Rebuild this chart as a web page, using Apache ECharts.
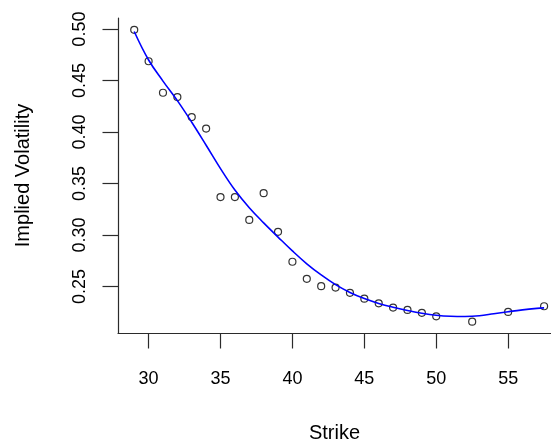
<!DOCTYPE html>
<html>
<head>
<meta charset="utf-8">
<script src="https://cdn.jsdelivr.net/npm/echarts@6/dist/echarts.min.js"></script>
<style>
html,body{margin:0;padding:0;background:#fff;overflow:hidden;}
#chart{width:551px;height:448px;}
</style>
</head>
<body>
<div id="chart"></div>
<script>
// Observed implied volatilities
var strikes = [29,30,31,32,33,34,35,36,37,38,39,40,41,42,43,44,45,46,47,48,49,50,52.5,55,57.5];
var ivObserved = [0.4993,0.4688,0.4382,0.4340,0.4146,0.4034,0.3368,0.3368,0.3146,0.3406,0.3031,0.2740,0.2574,0.2503,0.2489,0.2438,0.2381,0.2336,0.2295,0.2272,0.2244,0.2210,0.2158,0.2253,0.2308];

// Fitted smile curve (blue line)
var curveStrikes = [29,30,31,32,33,34,35,36,37,38,39,40,41,42,43,44,45,46,47,48,49,50,51,52,53,54,55,56,57,57.5];
var curveIV = [0.4977,0.4700,0.4495,0.4305,0.4095,0.3872,0.3645,0.3437,0.3265,0.3118,0.2980,0.2845,0.2720,0.2612,0.2518,0.2442,0.2382,0.2335,0.2298,0.2267,0.2240,0.2220,0.2210,0.2208,0.2215,0.2235,0.2255,0.2273,0.2287,0.2292];

// Tick labels
var xTicks = [30,35,40,45,50,55];
var yTicks = [0.25,0.30,0.35,0.40,0.45,0.50];

var xTitle = 'Strike';
var yTitle = 'Implied Volatility';

var scatterData = strikes.map(function(s,i){ return [s, ivObserved[i]]; });
var curveData = curveStrikes.map(function(s,i){ return [s, curveIV[i]]; });

var FONT = '"Liberation Sans", Arial, sans-serif';

var chart = echarts.init(document.getElementById('chart'), null, {renderer:'canvas', width:551, height:448});
chart.setOption({
  animation: false,
  backgroundColor: '#ffffff',
  grid: { left: 118, right: 0, top: 18, height: 321.3, containLabel: false },
  xAxis: {
    type: 'value',
    min: 27.872,
    max: 57.98,
    name: xTitle,
    nameLocation: 'middle',
    nameGap: 90,
    nameTextStyle: { color: '#000', fontSize: 20, fontFamily: FONT },
    splitLine: { show: false },
    axisLine: { show: true, onZero: false, lineStyle: { color: '#2b2b2b', width: 1.2 } },
    axisTick: { show: true, inside: false, length: 15.5, customValues: xTicks, lineStyle: { color: '#2b2b2b', width: 1.2 } },
    axisLabel: {
      show: true, margin: 37, color: '#000', fontSize: 18, fontFamily: FONT,
      customValues: xTicks,
      formatter: function(v){ return String(v); }
    }
  },
  yAxis: {
    type: 'value',
    min: 0.2048,
    max: 0.5108,
    name: yTitle,
    nameLocation: 'middle',
    nameRotate: 90,
    nameGap: 85,
    nameTextStyle: { color: '#000', fontSize: 20, fontFamily: FONT },
    splitLine: { show: false },
    axisLine: { show: true, onZero: false, lineStyle: { color: '#2b2b2b', width: 1.2 } },
    axisTick: { show: true, inside: false, length: 15.5, customValues: yTicks, lineStyle: { color: '#2b2b2b', width: 1.2 } },
    axisLabel: {
      show: true, margin: 29, rotate: 90, color: '#000', fontSize: 18, fontFamily: FONT,
      customValues: yTicks,
      formatter: function(v){ return v.toFixed(2); }
    }
  },
  series: [
    {
      type: 'scatter',
      data: scatterData,
      symbol: 'circle',
      symbolSize: 7,
      itemStyle: { color: 'rgba(0,0,0,0)', borderColor: '#000', borderWidth: 1.2 },
      z: 2
    },
    {
      type: 'line',
      data: curveData,
      smooth: 0.4,
      showSymbol: false,
      symbol: 'none',
      lineStyle: { color: '#0000ff', width: 1.6 },
      z: 3
    }
  ]
});
</script>
</body>
</html>
